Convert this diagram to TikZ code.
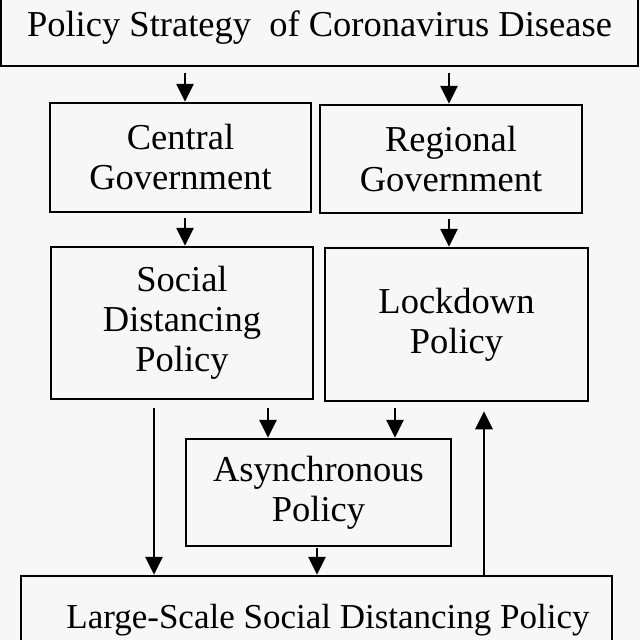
\documentclass[tikz,border=0pt]{standalone}
\usepackage{fontspec}
\setmainfont{Liberation Serif}
\usetikzlibrary{arrows.meta}
\begin{document}
\begin{tikzpicture}[x=1pt,y=-1pt,
  box/.style={draw, line width=2.5pt, rectangle, inner sep=0pt, align=center,
    font=\fontsize{36.5}{40}\selectfont},
  arr/.style={line width=2.8pt, -{Triangle[width=17pt,length=18pt]}}]
\fill[black!3] (0,0) rectangle (640,640);
\useasboundingbox (0,0) rectangle (640,640);
% boxes
\node[box, minimum width=637pt, minimum height=76pt] (top) at (319.5,28) {Policy Strategy\ \ of Coronavirus Disease};
\node[box, minimum width=261pt, minimum height=109pt] (cg) at (180.5,157.5) {Central\\Government};
\node[box, minimum width=262pt, minimum height=108pt] (rg) at (451,159) {Regional\\Government};
\node[box, minimum width=262pt, minimum height=152pt] (sd) at (182,323) {Social\\Distancing\\Policy};
\node[box, minimum width=263pt, minimum height=153pt] (ld) at (456.5,324.5) {Lockdown\\Policy};
\node[box, minimum width=265pt, minimum height=107pt] (as) at (318.5,492.5) {Asynchronous\\Policy};
\node[box, minimum width=591pt, minimum height=84pt] (lg) at (316.5,618) {};
\node[font=\fontsize{35}{40}\selectfont, anchor=base, inner sep=0pt] (lgt) at (328,628) {Large-Scale Social Distancing Policy};
% arrow start points
\coordinate (p1) at ([xshift=4.5pt,yshift=-6pt]top.south -| cg.north);
\coordinate (p2) at ([xshift=-2pt,yshift=-6pt]top.south -| rg.north);
\coordinate (p3) at ([xshift=3pt,yshift=-5pt]cg.south -| sd.north);
\coordinate (p4) at ([xshift=-7.5pt,yshift=-5pt]rg.south -| ld.north);
\coordinate (p5) at ([xshift=86pt,yshift=-8pt]sd.south);
\coordinate (p6) at ([xshift=-61.5pt,yshift=-6pt]ld.south);
\coordinate (p7) at ([xshift=-28pt,yshift=-8pt]sd.south);
\coordinate (p8) at ([xshift=-1.5pt,yshift=-1pt]as.south);
\coordinate (p9) at ([xshift=167.5pt]lg.north);
\coordinate (q9) at ([yshift=-9pt]ld.south);
% connectors
\draw[arr] (p1) -- (p1 |- cg.north);
\draw[arr] (p2) -- (p2 |- rg.north);
\draw[arr] (p3) -- (p3 |- sd.north);
\draw[arr] (p4) -- (p4 |- ld.north);
\draw[arr] (p5) -- (p5 |- as.north);
\draw[arr] (p6) -- (p6 |- as.north);
\draw[arr] (p7) -- (p7 |- lg.north);
\draw[arr] (p8) -- (p8 |- lg.north);
\draw[arr] (p9) -- (p9 |- q9);
\end{tikzpicture}
\end{document}
